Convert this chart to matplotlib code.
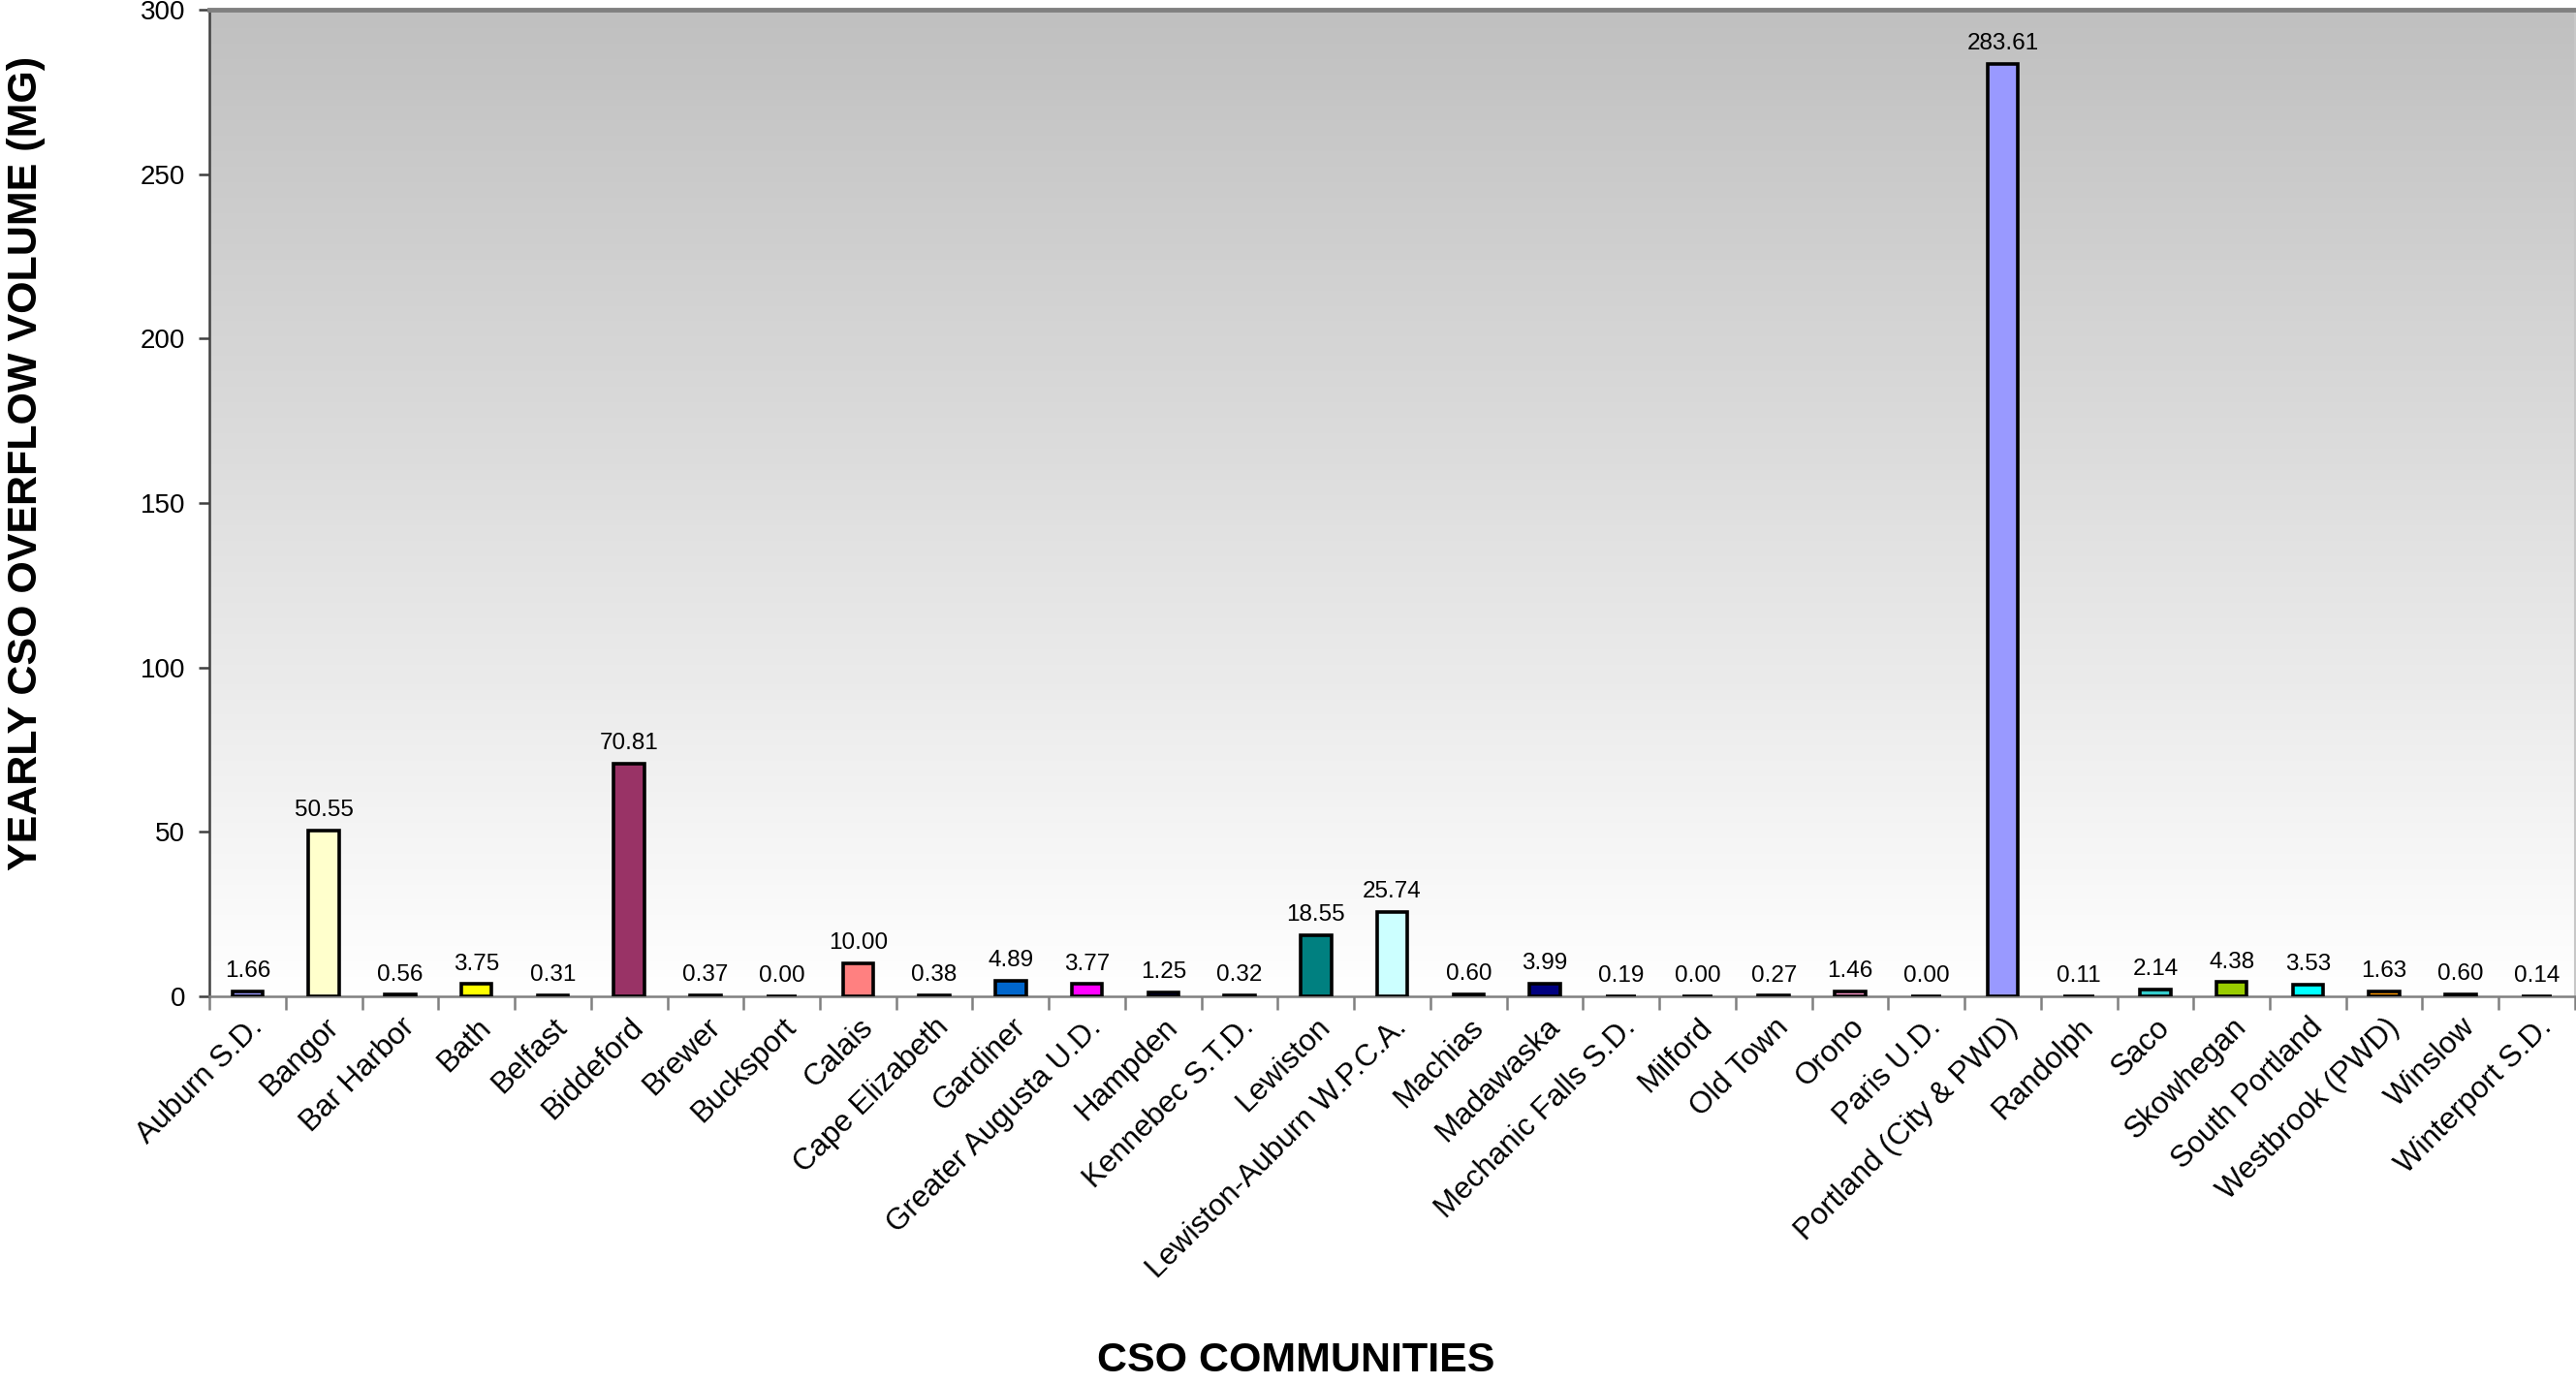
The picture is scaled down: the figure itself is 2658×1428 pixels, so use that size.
import numpy as np
import matplotlib
matplotlib.use("Agg")
import matplotlib.pyplot as plt
from matplotlib.colors import LinearSegmentedColormap

plt.rcParams['font.family'] = ['Liberation Sans', 'DejaVu Sans']

communities = [
    "Auburn S.D.", "Bangor", "Bar Harbor", "Bath", "Belfast", "Biddeford",
    "Brewer", "Bucksport", "Calais", "Cape Elizabeth", "Gardiner",
    "Greater Augusta U.D.", "Hampden", "Kennebec S.T.D.", "Lewiston",
    "Lewiston-Auburn W.P.C.A.", "Machias", "Madawaska", "Mechanic Falls S.D.",
    "Milford", "Old Town", "Orono", "Paris U.D.", "Portland (City & PWD)",
    "Randolph", "Saco", "Skowhegan", "South Portland", "Westbrook (PWD)",
    "Winslow", "Winterport S.D.",
]
volumes = [
    1.66, 50.55, 0.56, 3.75, 0.31, 70.81, 0.37, 0.00, 10.00, 0.38, 4.89,
    3.77, 1.25, 0.32, 18.55, 25.74, 0.60, 3.99, 0.19, 0.00, 0.27, 1.46,
    0.00, 283.61, 0.11, 2.14, 4.38, 3.53, 1.63, 0.60, 0.14,
]
bar_colors = [
    "#9999FF", "#FFFFCC", "#660066", "#FFFF00", "#800000", "#993366",
    "#0000FF", "#CCFFFF", "#FF8080", "#800080", "#0066CC",
    "#FF00FF", "#000080", "#008080", "#008080",
    "#CCFFFF", "#660066", "#000080", "#800000",
    "#0000FF", "#008080", "#FF99CC", "#FFFFFF", "#9999FF",
    "#800080", "#33CCCC", "#99CC00", "#00FFFF", "#FF9900",
    "#000080", "#800000",
]

fig = plt.figure(figsize=(26.58, 14.28), dpi=100)
ax = fig.add_axes([0.0813, 0.280, 0.9183, 0.713])

n = len(communities)
x = np.arange(n)
ax.set_xlim(-0.5, n - 0.5)
ax.set_ylim(0, 300)

# gradient background: grey at top, white at bottom
grad = np.linspace(0, 1, 256).reshape(-1, 1)
cmap = LinearSegmentedColormap.from_list("bg", ["#FFFFFF", "#C0C0C0"])
ax.imshow(grad, cmap=cmap, aspect="auto", origin="lower",
          extent=[-0.5, n - 0.5, 0, 300], zorder=0)

ax.bar(x, volumes, width=0.4, color=bar_colors, edgecolor="black",
       linewidth=2.6, zorder=3)

for xi, v in zip(x, volumes):
    ax.annotate(f"{v:.2f}", (xi, v), xytext=(0, 7), textcoords="offset points",
                ha="center", va="bottom", fontsize=17.5, zorder=4)

ax.set_xticks(x)
ax.set_xticklabels(communities, rotation=45, ha="right", va="top",
                   rotation_mode="anchor", fontsize=22.5)
ax.set_xticks(np.arange(-0.5, n, 1), minor=True)
ax.tick_params(axis="x", which="major", length=0, pad=12)
ax.tick_params(axis="x", which="minor", length=10, width=1.8, color="#808080",
               direction="out")
ax.set_yticks(np.arange(0, 301, 50))
ax.tick_params(axis="y", labelsize=20, length=8, width=1.8, color="#404040",
               pad=10)

ax.spines["top"].set_color("#808080")
ax.spines["top"].set_linewidth(3.5)
ax.spines["left"].set_color("#404040")
ax.spines["left"].set_linewidth(1.8)
ax.spines["right"].set_color("#C8C8C8")
ax.spines["right"].set_linewidth(1.5)
ax.spines["bottom"].set_color("#808080")
ax.spines["bottom"].set_linewidth(1.8)

fig.text(0.010, 0.665, "YEARLY CSO OVERFLOW VOLUME (MG)", rotation=90,
         ha="center", va="center", fontsize=31, fontweight="bold")
fig.text(0.503, 0.0165, "CSO COMMUNITIES", ha="center", va="center",
         fontsize=31, fontweight="bold")

fig.savefig("out.png", dpi=100)
